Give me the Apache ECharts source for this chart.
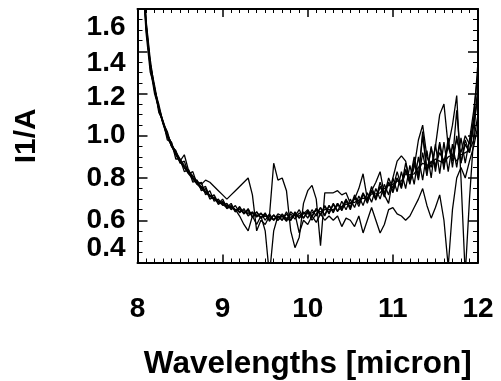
<!DOCTYPE html>
<html>
<head>
<meta charset="utf-8">
<script src="https://cdn.jsdelivr.net/npm/echarts@6/dist/echarts.min.js"></script>
<style>html,body{margin:0;padding:0;background:#fff}#c{width:501px;height:381px}</style>
</head>
<body>
<div id="c"></div>
<script>
const wavelengths = [8.00,8.05,8.10,8.15,8.20,8.25,8.30,8.35,8.40,8.45,8.50,8.55,8.60,8.65,8.70,8.75,8.80,8.85,8.90,8.95,
9.00,9.05,9.10,9.15,9.20,9.25,9.30,9.35,9.40,9.45,9.50,9.55,9.60,9.65,9.70,9.75,9.80,9.85,9.90,9.95,
10.00,10.05,10.10,10.15,10.20,10.25,10.30,10.35,10.40,10.45,10.50,10.55,10.60,10.65,10.70,10.75,10.80,10.85,10.90,10.95,
11.00,11.05,11.10,11.15,11.20,11.25,11.30,11.35,11.40,11.45,11.50,11.55,11.60,11.65,11.70,11.75,11.80,11.85,11.90,11.95,12.00];

const spec1 = [2.30,1.88,1.55,1.36,1.22,1.15,1.06,1.02,
0.95,0.93,0.87,0.88,0.82,0.83,0.77,0.78,0.72,0.74,0.69,0.70,
0.67,0.68,0.65,0.67,0.635,0.655,0.62,0.64,0.615,0.635,0.60,0.63,0.60,0.62,0.60,0.63,0.60,0.635,0.61,0.64,
0.61,0.65,0.62,0.66,0.625,0.67,0.635,0.68,0.645,0.695,0.65,0.71,0.665,0.725,0.68,0.74,0.695,0.76,0.71,0.78,
0.73,0.80,0.75,0.84,0.77,0.88,0.79,0.92,0.81,0.95,0.83,0.96,0.84,0.99,0.85,1.00,0.87,0.98,0.92,1.05,1.20];

const spec2 = [2.25,1.82,1.49,1.30,1.23,1.11,1.07,0.98,
0.97,0.89,0.89,0.83,0.84,0.78,0.79,0.74,0.75,0.70,0.71,0.675,
0.69,0.655,0.67,0.64,0.66,0.63,0.65,0.615,0.64,0.61,0.63,0.60,0.625,0.60,0.62,0.595,0.63,0.605,0.635,0.61,
0.645,0.615,0.655,0.625,0.665,0.63,0.675,0.64,0.69,0.65,0.70,0.66,0.715,0.67,0.73,0.685,0.75,0.70,0.77,0.72,
0.80,0.735,0.83,0.75,0.86,0.77,0.90,0.79,0.93,0.80,0.96,0.82,0.97,0.83,0.96,0.85,0.99,0.87,0.98,1.12,1.30];

const spec3 = [2.35,1.90,1.53,1.32,1.20,1.13,1.065,1.00,
0.95,0.92,0.885,0.85,0.83,0.80,0.775,0.76,0.735,0.72,0.705,0.69,
0.685,0.67,0.665,0.65,0.65,0.635,0.64,0.63,0.625,0.615,0.62,0.61,0.605,0.615,0.62,0.61,0.615,0.625,0.62,0.635,
0.63,0.635,0.645,0.64,0.65,0.65,0.65,0.67,0.665,0.675,0.68,0.685,0.695,0.705,0.70,0.725,0.725,0.73,0.75,0.765,
0.77,0.785,0.785,0.82,0.815,0.82,0.85,0.87,0.86,0.87,0.89,0.88,0.87,0.90,0.91,0.88,0.91,0.92,0.93,0.98,1.10];

const spec4 = [2.28,1.86,1.51,1.34,1.24,1.13,1.06,1.005,
0.965,0.91,0.88,0.91,0.835,0.80,0.78,0.75,0.76,0.71,0.72,0.68,
0.70,0.66,0.68,0.64,0.665,0.63,0.655,0.615,0.64,0.61,0.635,0.595,0.625,0.60,0.63,0.605,0.60,0.64,0.61,0.63,
0.65,0.62,0.655,0.625,0.67,0.635,0.68,0.645,0.66,0.70,0.66,0.72,0.68,0.73,0.69,0.76,0.70,0.78,0.72,0.80,
0.75,0.83,0.76,0.87,0.79,0.90,0.81,1.00,0.83,0.94,0.85,0.97,0.86,0.95,0.88,1.12,0.87,0.96,0.92,1.08,1.35];

const spec5 = [2.32,1.87,1.54,1.34,1.22,1.135,1.07,1.01,
0.96,0.925,0.89,0.86,0.835,0.81,0.785,0.77,
0.79,0.78,0.76,0.74,0.72,0.70,0.72,0.74,0.76,0.78,0.80,0.72,0.55,0.60,0.58,0.62,
0.60,0.63,0.62,0.60,0.64,0.62,0.65,0.61,0.64,0.60,0.63,0.66,0.62,0.67,0.64,0.68,
0.65,0.69,0.66,0.71,0.68,0.72,0.70,0.74,0.71,0.76,0.73,0.78,0.74,0.80,0.76,0.84,
0.78,0.87,0.80,1.02,0.84,0.88,0.86,0.92,0.88,0.96,0.90,0.98,0.92,1.00,0.96,1.08,1.18];

const spec6 = [2.27,1.84,1.52,1.33,1.225,1.125,1.055,0.995,
0.95,0.91,0.875,0.85,0.82,0.795,0.77,0.75,
0.73,0.715,0.70,0.685,0.675,0.66,0.66,0.65,0.64,0.645,0.63,0.635,0.62,0.63,0.62,0.62,
0.87,0.79,0.80,0.74,0.55,0.47,0.52,0.68,0.74,0.765,0.70,0.48,0.73,0.73,0.73,0.74,
0.72,0.73,0.68,0.70,0.75,0.82,0.70,0.74,0.78,0.83,0.72,0.68,0.80,0.88,0.905,0.88,
0.78,0.85,0.98,1.05,0.90,0.85,0.95,1.10,1.15,0.95,1.05,1.19,0.80,0.34,0.70,1.00,1.25];

const spec7 = [2.31,1.89,1.53,1.33,1.215,1.13,1.06,1.00,
0.955,0.915,0.88,0.85,0.825,0.80,0.775,0.755,
0.735,0.715,0.70,0.69,0.68,0.67,0.66,0.65,0.62,0.58,0.55,0.62,0.58,0.62,0.55,0.34,
0.55,0.62,0.60,0.64,0.60,0.63,0.54,0.60,0.58,0.62,0.59,0.63,0.60,0.62,0.60,0.62,
0.57,0.61,0.60,0.57,0.62,0.54,0.60,0.66,0.60,0.54,0.58,0.65,0.66,0.63,0.62,0.60,
0.62,0.66,0.70,0.75,0.67,0.61,0.66,0.72,0.60,0.38,0.65,0.80,0.85,0.80,0.88,0.95,1.05];

const spectra = [spec1, spec2, spec3, spec4, spec5, spec6, spec7];
const xTickLabels = ['8','9','10','11','12'];
const yTickLabels = ['0.4','0.6','0.8','1.0','1.2','1.4','1.6'];

const FONT = 'Liberation Sans';
const chart = echarts.init(document.getElementById('c'), null, {renderer:'canvas'});

const commonX = {
  type:'value', min:8, max:12, interval:1,
  axisLine:{show:true, onZero:false, lineStyle:{color:'#000', width:2}},
  axisTick:{show:true, inside:true, length:8, lineStyle:{color:'#000', width:1.5}},
  minorTick:{show:true, splitNumber:10, length:4, lineStyle:{color:'#000', width:1}},
  splitLine:{show:false}, minorSplitLine:{show:false}
};
const commonY = {
  type:'value', min:0.4, max:1.6, interval:0.2,
  axisLine:{show:true, onZero:false, lineStyle:{color:'#000', width:2}},
  axisTick:{show:true, inside:true, length:10, lineStyle:{color:'#000', width:1.5}},
  minorTick:{show:true, splitNumber:4, length:5, lineStyle:{color:'#000', width:1}},
  splitLine:{show:false}, minorSplitLine:{show:false}
};

const option = {
  animation:false,
  backgroundColor:'#fff',
  grid:{left:137.5, right:23, top:9, bottom:118.5, containLabel:false, outerBoundsMode:'none'},
  xAxis:[
    Object.assign({}, commonX, {
      position:'bottom',
      name:'Wavelengths [micron]', nameLocation:'middle', nameGap:86,
      nameTextStyle:{fontFamily:FONT, fontWeight:'bold', fontSize:31.5, color:'#000'},
      axisLabel:{show:true, margin:33, hideOverlap:false, fontFamily:FONT, fontWeight:'bold', fontSize:28, color:'#000',
        formatter:function(v){ const i = Math.round(v-8); return xTickLabels[i] !== undefined ? xTickLabels[i] : ''; }}
    }),
    Object.assign({}, commonX, {position:'top', axisLabel:{show:false}})
  ],
  yAxis:[
    Object.assign({}, commonY, {
      position:'left',
      name:'I1/A', nameLocation:'middle', nameGap:96, nameRotate:90,
      nameTextStyle:{fontFamily:FONT, fontWeight:'bold', fontSize:30, color:'#000'},
      axisLabel:{show:true, margin:12, hideOverlap:false, fontFamily:FONT, fontWeight:'bold', fontSize:28, color:'#000',
        verticalAlignMinLabel:'bottom', verticalAlignMaxLabel:'top',
        formatter:function(v){
          const i = Math.round((v-0.4)/0.2);
          const s = yTickLabels[i];
          if (s === '1.6') return '{d16|' + s + '}';
          if (s === '1.4') return '{d14|' + s + '}';
          if (s === '1.2') return '{d12|' + s + '}';
          return s;
        },
        rich:{
          d16:{fontFamily:FONT, fontWeight:'bold', fontSize:28, color:'#000', padding:[4,0,0,0]},
          d14:{fontFamily:FONT, fontWeight:'bold', fontSize:28, color:'#000', padding:[24,0,0,0]},
          d12:{fontFamily:FONT, fontWeight:'bold', fontSize:28, color:'#000', padding:[8,0,0,0]}
        }}
    }),
    Object.assign({}, commonY, {position:'right', axisLabel:{show:false}})
  ],
  series: spectra.map(function(vals, k){
    return {
      name:'spectrum ' + (k+1), type:'line', xAxisIndex:0, yAxisIndex:0,
      data: wavelengths.map(function(x,i){ return [x, vals[i]]; }),
      showSymbol:false, symbol:'none', clip:true,
      lineStyle:{color:'#000', width:1.3}
    };
  })
};
chart.setOption(option);
</script>
</body>
</html>
